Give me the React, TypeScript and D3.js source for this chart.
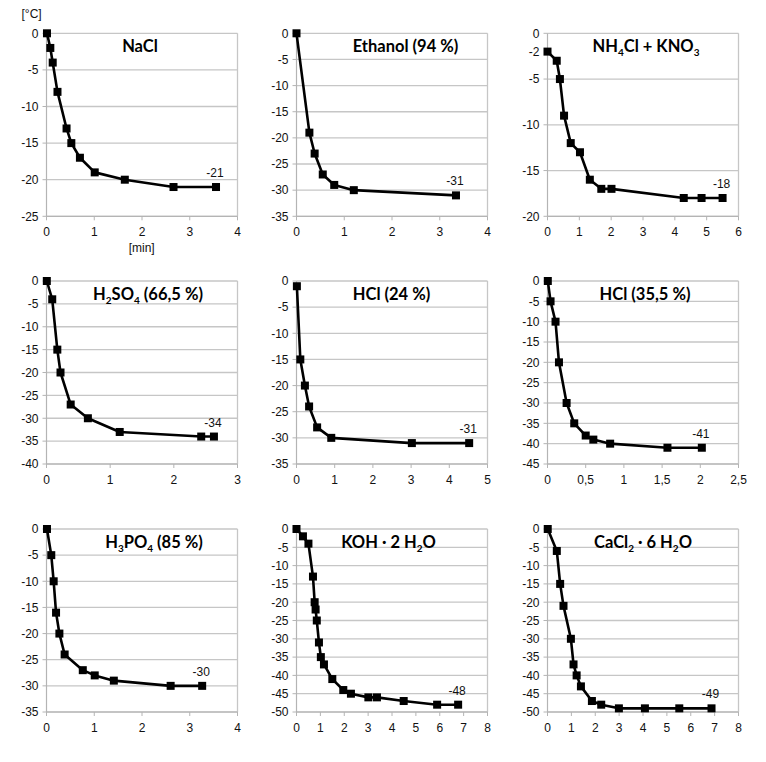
import * as d3 from "d3";

// time [min] and temperature [°C]
const naclTime = [0.01, 0.08, 0.13, 0.23, 0.42, 0.52, 0.7, 1.01, 1.64, 2.66, 3.55];
const naclTemp = [0, -2, -4, -8, -13, -15, -17, -19, -20, -21, -21];

const ethanolTime = [0, 0.27, 0.38, 0.55, 0.79, 1.2, 3.34];
const ethanolTemp = [0, -19, -23, -27, -29, -30, -31];

const nh4clTime = [0, 0.29, 0.39, 0.52, 0.73, 1.02, 1.33, 1.69, 2.01, 4.28, 4.84, 5.5];
const nh4clTemp = [-2, -3, -5, -9, -12, -13, -16, -17, -17, -18, -18, -18];

const h2so4Time = [0.005, 0.09, 0.17, 0.22, 0.38, 0.65, 1.15, 2.43, 2.63];
const h2so4Temp = [0, -4, -15, -20, -27, -30, -33, -34, -34];

const hcl24Time = [0.01, 0.1, 0.22, 0.33, 0.54, 0.91, 3.02, 4.52];
const hcl24Temp = [-1, -15, -20, -24, -28, -30, -31, -31];

const hcl35Time = [0.004, 0.04, 0.105, 0.15, 0.25, 0.35, 0.5, 0.6, 0.82, 1.57, 2.02];
const hcl35Temp = [0, -5, -10, -20, -30, -35, -38, -39, -40, -41, -41];

const h3po4Time = [0.01, 0.1, 0.15, 0.2, 0.27, 0.38, 0.76, 1.01, 1.41, 2.6, 3.26];
const h3po4Temp = [0, -5, -10, -16, -20, -24, -27, -28, -29, -30, -30];

const kohTime = [0, 0.27, 0.5, 0.69, 0.76, 0.8, 0.85, 0.94, 1.02, 1.15, 1.5, 1.96, 2.28, 3.01, 3.37, 4.49, 5.89, 6.77];
const kohTemp = [0, -2, -4, -13, -20, -22, -25, -31, -35, -37, -41, -44, -45, -46, -46, -47, -48, -48];

const cacl2Time = [0.01, 0.39, 0.53, 0.67, 0.98, 1.09, 1.22, 1.4, 1.86, 2.25, 2.99, 4.08, 5.52, 6.87];
const cacl2Temp = [0, -6, -15, -21, -30, -37, -40, -43, -47, -48, -49, -49, -49, -49];

type Seg = { t: string; sub?: boolean };

type Panel = {
  title: Seg[];
  time: number[];
  temp: number[];
  xMax: number;
  xStep: number;
  yMin: number;
  extraY?: number[];
};

const panels: Panel[] = [
  { title: [{ t: "NaCl" }], time: naclTime, temp: naclTemp, xMax: 4, xStep: 1, yMin: -25 },
  { title: [{ t: "Ethanol (94 %)" }], time: ethanolTime, temp: ethanolTemp, xMax: 4, xStep: 1, yMin: -35 },
  {
    title: [{ t: "NH" }, { t: "4", sub: true }, { t: "Cl + KNO" }, { t: "3", sub: true }],
    time: nh4clTime, temp: nh4clTemp, xMax: 6, xStep: 1, yMin: -20, extraY: [-2],
  },
  {
    title: [{ t: "H" }, { t: "2", sub: true }, { t: "SO" }, { t: "4", sub: true }, { t: " (66,5 %)" }],
    time: h2so4Time, temp: h2so4Temp, xMax: 3, xStep: 1, yMin: -40,
  },
  { title: [{ t: "HCl (24 %)" }], time: hcl24Time, temp: hcl24Temp, xMax: 5, xStep: 1, yMin: -35 },
  { title: [{ t: "HCl (35,5 %)" }], time: hcl35Time, temp: hcl35Temp, xMax: 2.5, xStep: 0.5, yMin: -45 },
  {
    title: [{ t: "H" }, { t: "3", sub: true }, { t: "PO" }, { t: "4", sub: true }, { t: " (85 %)" }],
    time: h3po4Time, temp: h3po4Temp, xMax: 4, xStep: 1, yMin: -35,
  },
  {
    title: [{ t: "KOH · 2 H" }, { t: "2", sub: true }, { t: "O" }],
    time: kohTime, temp: kohTemp, xMax: 8, xStep: 1, yMin: -50,
  },
  {
    title: [{ t: "CaCl" }, { t: "2", sub: true }, { t: " · 6 H" }, { t: "2", sub: true }, { t: "O" }],
    time: cacl2Time, temp: cacl2Temp, xMax: 8, xStep: 1, yMin: -50,
  },
];

// layout
const colLeft = [46.5, 296.5, 547.5];
const rowTop = [33.3, 281, 529];
const plotW = 191;
const plotH = 183;
const titleDx = [93.5, 109, 98.5, 101.5, 95, 97.5, 107.5, 92, 95.5];

const gridColor = "#c6c6c6";
const axisColor = "#b4b4b4";
const tickFont = "'Liberation Sans', Arial, sans-serif";
const titleFont = "Lato, 'Open Sans', sans-serif";

const fmt = (v: number) => String(v).replace(".", ",");

function Chart({ p, i }: { p: Panel; i: number }) {
  const left = colLeft[i % 3];
  const top = rowTop[Math.floor(i / 3)];
  const x = d3.scaleLinear().domain([0, p.xMax]).range([left, left + plotW]);
  const y = d3.scaleLinear().domain([p.yMin, 0]).range([top + plotH, top]);
  const xTicks = d3.range(0, p.xMax + p.xStep / 2, p.xStep);
  const yTicks = d3.range(0, p.yMin - 2.5, -5);
  const pts = p.time.map((t, k) => [t, p.temp[k]] as [number, number]);
  const line = d3
    .line<[number, number]>()
    .x((d) => x(d[0]))
    .y((d) => y(d[1]));
  const last = pts[pts.length - 1];

  return (
    <g>
      {yTicks.map((v) => (
        <g key={"y" + v}>
          <line x1={left} x2={left + plotW} y1={y(v)} y2={y(v)} stroke={gridColor} strokeWidth={1.3} />
          <line x1={left - 4} x2={left} y1={y(v)} y2={y(v)} stroke={axisColor} strokeWidth={1} />
          <text x={left - 8} y={y(v) + 4.3} textAnchor="end" fontSize={12} fontFamily={tickFont} fill="#111">
            {v}
          </text>
        </g>
      ))}
      {(p.extraY || []).map((v) => (
        <text key={"e" + v} x={left - 8} y={y(v) + 4.3} textAnchor="end" fontSize={12} fontFamily={tickFont} fill="#111">
          {v}
        </text>
      ))}
      <line x1={left + plotW} x2={left + plotW} y1={top} y2={top + plotH} stroke={gridColor} strokeWidth={1.3} />
      <line x1={left} x2={left} y1={top} y2={top + plotH} stroke={axisColor} strokeWidth={1.2} />
      <line x1={left} x2={left + plotW} y1={top + plotH} y2={top + plotH} stroke={axisColor} strokeWidth={1.2} />
      {xTicks.map((v) => (
        <g key={"x" + v}>
          <line x1={x(v)} x2={x(v)} y1={top + plotH} y2={top + plotH + 4} stroke={axisColor} strokeWidth={1} />
          <text x={x(v)} y={top + plotH + 20} textAnchor="middle" fontSize={12} fontFamily={tickFont} fill="#111">
            {fmt(v)}
          </text>
        </g>
      ))}
      <path d={line(pts) || ""} fill="none" stroke="#000" strokeWidth={2.6} strokeLinejoin="round" />
      {pts.map((d, k) => (
        <rect key={k} x={x(d[0]) - 4} y={y(d[1]) - 4} width={8} height={8} fill="#000" />
      ))}
      <text x={x(last[0]) - 1} y={y(last[1]) - 10} textAnchor="middle" fontSize={12} fontFamily={tickFont} fill="#111">
        {last[1]}
      </text>
      <text
        x={left + titleDx[i]}
        y={top + 19}
        textAnchor="middle"
        fontSize={16.5}
        fontWeight={700}
        fontFamily={titleFont}
        fill="#000"
      >
        {p.title.map((s, k) =>
          s.sub ? (
            <tspan key={k} fontSize={10} dy={4}>
              {s.t}
            </tspan>
          ) : (
            <tspan key={k} dy={k > 0 && p.title[k - 1].sub ? -4 : 0}>
              {s.t}
            </tspan>
          )
        )}
      </text>
    </g>
  );
}

export default function App() {
  return (
    <svg
      width={766}
      height={762}
      style={{ position: "absolute", left: 0, top: 0, background: "#fff" }}
    >
      <rect width={766} height={762} fill="#fff" />
      {panels.map((p, i) => (
        <Chart key={i} p={p} i={i} />
      ))}
      <text x={21.5} y={17.5} fontSize={12} fontFamily={tickFont} fill="#111">
        [°C]
      </text>
      <text x={141.7} y={251.5} textAnchor="middle" fontSize={12} fontFamily={tickFont} fill="#111">
        [min]
      </text>
    </svg>
  );
}
